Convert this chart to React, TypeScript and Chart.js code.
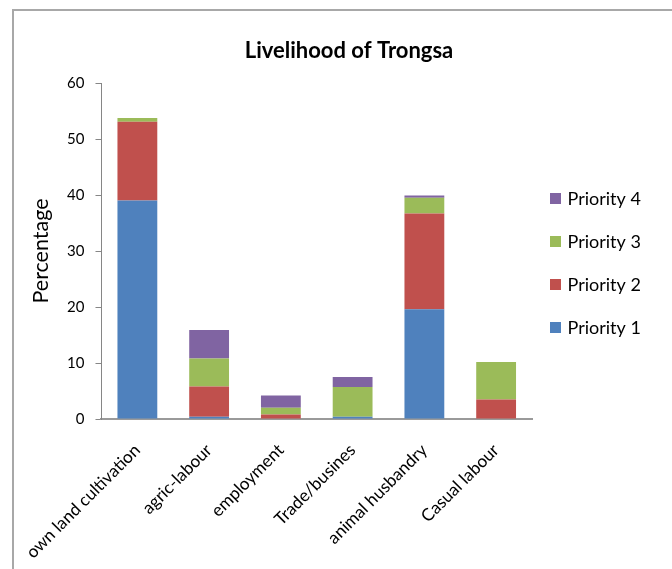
import { useEffect, useRef } from "react";
import { Chart, registerables } from "chart.js";

Chart.register(...registerables);

const categories = [
  "own land cultivation",
  "agric-labour",
  "employment",
  "Trade/busines",
  "animal husbandry",
  "Casual labour",
];
const priority1 = [39.0, 0.4, 0, 0.4, 19.6, 0];
const priority2 = [14.1, 5.4, 0.8, 0, 17.1, 3.5];
const priority3 = [0.65, 5.0, 1.2, 5.3, 2.8, 6.7];
const priority4 = [0, 5.1, 2.2, 1.8, 0.4, 0];
const seriesNames = ["Priority 1", "Priority 2", "Priority 3", "Priority 4"];
const seriesColors = ["#4F81BD", "#C0504D", "#9BBB59", "#8064A2"];
const yTicks = [0, 10, 20, 30, 40, 50, 60];
const chartTitle = "Livelihood of Trongsa";
const yTitle = "Percentage";

const FONT = "Lato, 'Open Sans', sans-serif";

// Title centred in the chart frame (which runs past the right edge of the view)
const frameTitle = {
  id: "frameTitle",
  afterDraw(chart: any) {
    const { ctx } = chart;
    ctx.save();
    ctx.font = `bold 22px ${FONT}`;
    ctx.fillStyle = "#000";
    ctx.textAlign = "center";
    ctx.textBaseline = "alphabetic";
    ctx.fillText(chartTitle, chart.width / 2 + 13, chart.chartArea.top - 25);
    ctx.restore();
  },
};

const sideLegend = {
  id: "sideLegend",
  afterDraw(chart: any) {
    const { ctx, chartArea } = chart;
    const ds = chart.data.datasets.slice().reverse();
    const gap = 43;
    const cy = (chartArea.top + chartArea.bottom) / 2 + 12;
    const startY = cy - (gap * (ds.length - 1)) / 2;
    const x = chartArea.right + 18;
    ctx.save();
    ctx.font = `18px ${FONT}`;
    ctx.textBaseline = "middle";
    ctx.textAlign = "left";
    ds.forEach((d: any, i: number) => {
      const y = startY + i * gap;
      ctx.fillStyle = d.backgroundColor;
      ctx.fillRect(x, y - 5.5, 11, 11);
      ctx.fillStyle = "#000";
      ctx.fillText(d.label, x + 17.5, y + 1);
    });
    ctx.restore();
  },
};

export default function App() {
  const ref = useRef<HTMLCanvasElement | null>(null);

  useEffect(() => {
    if (!ref.current) return;
    const series = [priority1, priority2, priority3, priority4];
    const chart = new Chart(ref.current, {
      type: "bar",
      data: {
        labels: categories,
        datasets: series.map((values, i) => ({
          label: seriesNames[i],
          data: values,
          backgroundColor: seriesColors[i],
          borderWidth: 0,
          categoryPercentage: 1,
          barPercentage: 0.555,
        })),
      },
      options: {
        responsive: false,
        animation: false,
        devicePixelRatio: 1,
        layout: { padding: { left: 0, right: 140, top: 83, bottom: 10 } },
        plugins: {
          legend: { display: false },
          tooltip: { enabled: false },
          title: { display: false, text: chartTitle },
        },
        scales: {
          x: {
            stacked: true,
            grid: { display: false, drawTicks: false },
            border: { display: true, color: "#9a9a9a", width: 2 },
            ticks: {
              color: "#000",
              font: { family: FONT, size: 17.2 },
              maxRotation: 45,
              minRotation: 45,
              autoSkip: false,
              padding: 21,
            },
            afterFit(scale: any) {
              scale.height = 140;
            },
          },
          y: {
            stacked: true,
            min: 0,
            max: 60,
            afterBuildTicks(scale: any) {
              scale.ticks = yTicks.map((v) => ({ value: v }));
            },
            grid: {
              drawOnChartArea: false,
              drawTicks: true,
              tickLength: 6,
              color: "#868686",
            },
            border: { display: true, color: "#868686", width: 1 },
            ticks: {
              color: "#000",
              font: { family: FONT, size: 15 },
              padding: 11,
            },
            title: {
              display: true,
              text: yTitle,
              color: "#000",
              font: { family: FONT, size: 21.5 },
              padding: { top: 27, bottom: 0 },
            },
            afterFit(scale: any) {
              scale.width = 100;
            },
          },
        },
      },
      plugins: [frameTitle, sideLegend],
    });
    return () => chart.destroy();
  }, []);

  return (
    <div
      style={{
        position: "fixed",
        left: 0,
        top: 0,
        width: 672,
        height: 569,
        overflow: "hidden",
        background: "#fff",
      }}
    >
      <div
        style={{
          position: "absolute",
          left: 12,
          top: 9,
          width: 720,
          height: 620,
          border: "2px solid #a8a8a8",
          boxSizing: "border-box",
        }}
      />
      <canvas
        ref={ref}
        width={672}
        height={569}
        style={{ position: "absolute", left: 0, top: 0, display: "block" }}
      />
    </div>
  );
}
